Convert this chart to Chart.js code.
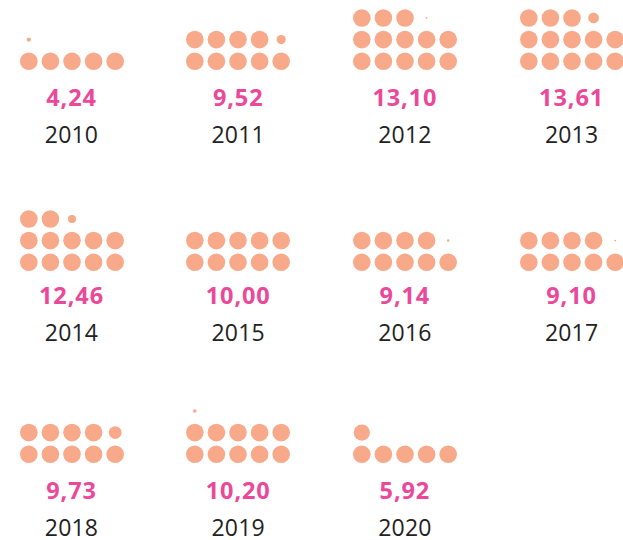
<!DOCTYPE html>
<html>
<head>
<meta charset="utf-8">
<script src="https://cdn.jsdelivr.net/npm/chart.js@4"></script>
<style>
    body { margin: 0; background: #fff; }
    #wrap { position: relative; width: 623px; height: 540px; overflow: hidden; }
    .cell canvas { position: absolute; }
    .lbl {
        position: absolute; width: 160px; text-align: center;
        line-height: 26px; height: 26px; white-space: nowrap;
        font-family: "Open Sans", sans-serif; font-size: 23px;
    }
    .val { color: #ec4899; font-weight: 700; font-size: 23.5px; letter-spacing: 0.9px; }
    .year { color: #222; letter-spacing: 0.2px; }
</style>
</head>
<body>
<div id="wrap"></div>
<script>
// jahre und werte
const years = ['2010', '2011', '2012', '2013', '2014', '2015', '2016', '2017', '2018', '2019', '2020'];
const valueLabels = ['4,24', '9,52', '13,10', '13,61', '12,46', '10,00', '9,14', '9,10', '9,73', '10,20', '5,92'];
// was die punkte im bild zeigen (2010 hat dort 5 volle punkte)
const dotValues = [5.24, 9.52, 13.10, 13.61, 12.46, 10.00, 9.14, 9.10, 9.73, 10.20, 5.92];

const dotColor = '#f7a98a';
const fullRadius = 8.8;
const perRow = 5;

// layout
const colCenters = [71.5, 238.2, 404.9, 571.6];
const rowDotY = [61, 262, 454];   // untere punktreihe
const rowValY = [96.5, 294.5, 489.5];
const rowYearY = [133.5, 332, 527];
const cw = 130, ch = 67;

function buildDots(v) {
    const full = Math.floor(v + 1e-9);
    const frac = Math.round((v - full) * 100) / 100;
    const pts = [], radii = [];
    for (let i = 0; i < full; i++) {
        pts.push({ x: i % perRow, y: Math.floor(i / perRow) });
        radii.push(fullRadius);
    }
    if (frac > 0) {
        pts.push({ x: full % perRow, y: Math.floor(full / perRow) });
        radii.push(fullRadius * frac);
    }
    return { pts, radii };
}

const wrap = document.getElementById('wrap');

years.forEach((year, i) => {
    const col = i % 4, row = Math.floor(i / 4);
    const cx = colCenters[col];

    const canvas = document.createElement('canvas');
    canvas.width = cw;
    canvas.height = ch;
    canvas.style.left = (cx - cw / 2) + 'px';
    canvas.style.top = (rowDotY[row] - 2.6 * (ch / 3.1)) + 'px';
    const cell = document.createElement('div');
    cell.className = 'cell';
    cell.appendChild(canvas);
    wrap.appendChild(cell);

    const val = document.createElement('div');
    val.className = 'lbl val';
    val.textContent = valueLabels[i];
    val.style.left = (cx - 80) + 'px';
    val.style.top = (rowValY[row] - 13) + 'px';
    wrap.appendChild(val);

    const yr = document.createElement('div');
    yr.className = 'lbl year';
    yr.textContent = year;
    yr.style.left = (cx - 80) + 'px';
    yr.style.top = (rowYearY[row] - 13) + 'px';
    wrap.appendChild(yr);

    const d = buildDots(dotValues[i]);
    new Chart(canvas.getContext('2d'), {
        type: 'scatter',
        data: {
            datasets: [{
                data: d.pts,
                pointRadius: d.radii,
                pointHoverRadius: d.radii,
                backgroundColor: dotColor,
                borderWidth: 0,
                clip: false
            }]
        },
        options: {
            responsive: false,
            animation: false,
            devicePixelRatio: 1,
            layout: { padding: 0, autoPadding: false },
            plugins: { legend: { display: false }, tooltip: { enabled: false } },
            events: [],
            scales: {
                x: { type: 'linear', display: false, min: -1.01, max: 5.01 },
                y: { type: 'linear', display: false, min: -0.5, max: 2.6 }
            }
        }
    });
});
</script>
</body>
</html>
